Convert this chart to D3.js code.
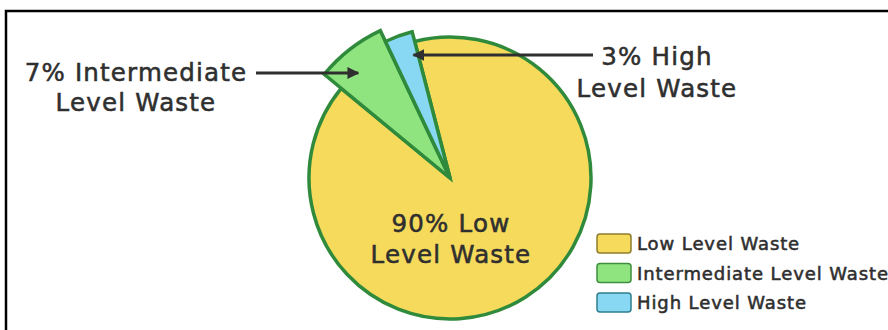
<!DOCTYPE html>
<html>
<head>
<meta charset="utf-8">
<script src="https://cdn.jsdelivr.net/npm/d3@7"></script>
<style>
  body { margin: 0; background: #fff; }
  text { font-family: "DejaVu Sans", "Noto Sans", sans-serif; fill: #2f2f2f; stroke: #2f2f2f; stroke-width: 0.55; }
</style>
</head>
<body>
<div id="chart"></div>
<script>
// data
const categories = ["Low Level Waste", "Intermediate Level Waste", "High Level Waste"];
const shares = [90, 7, 3];
const labelLines = [
  ["90% Low", "Level Waste"],
  ["7% Intermediate", "Level Waste"],
  ["3% High", "Level Waste"]
];

const width = 888, height = 330;
const cx = 450, cy = 178;

// slice styling: outer radius per slice (small slices are pulled out a bit)
const radius = [141, 163, 151];
const fills = ["#f6da5c", "#8fe480", "#88d8f4"];
const legendStroke = ["#8f7d2c", "#3f8f3f", "#2f7f8f"];
const strokeColor = "#2f8b3b";

const svg = d3.select("#chart")
  .append("svg")
  .attr("width", width)
  .attr("height", height);

// frame
svg.append("rect")
  .attr("x", 6).attr("y", 11)
  .attr("width", width + 10).attr("height", height + 10)
  .attr("fill", "none")
  .attr("stroke", "#000")
  .attr("stroke-width", 2.5);

const data = categories.map((c, i) => ({ name: c, value: shares[i], i: i }));

const start = -14.5 * Math.PI / 180;
const pie = d3.pie()
  .sort(null)
  .value(d => d.value)
  .startAngle(start)
  .endAngle(start + 2 * Math.PI);

const arcs = pie(data);

const g = svg.append("g").attr("transform", `translate(${cx},${cy})`);

g.selectAll("path.slice")
  .data(arcs)
  .join("path")
  .attr("class", "slice")
  .attr("d", d => d3.arc().innerRadius(0).outerRadius(radius[d.data.i])(d))
  .attr("fill", d => fills[d.data.i])
  .attr("stroke", strokeColor)
  .attr("stroke-width", 3.5)
  .attr("stroke-linejoin", "miter");

// arrowhead
svg.append("defs").append("marker")
  .attr("id", "arrow")
  .attr("viewBox", "0 0 10 10")
  .attr("refX", 9).attr("refY", 5)
  .attr("markerWidth", 4).attr("markerHeight", 4)
  .attr("markerUnits", "strokeWidth")
  .attr("orient", "auto")
  .append("path")
  .attr("d", "M0,0 L10,5 L0,10 z")
  .attr("fill", "#2f2f2f");

// point on a slice's middle ray at a given page y
const tipAt = (a, y) => {
  const mid = (a.startAngle + a.endAngle) / 2;
  return cx + (cy - y) * Math.tan(mid);
};

// multi-line label, one text element per line
const addLabel = (lines, x, y, lineGap, size) => {
  svg.selectAll(null)
    .data(lines)
    .join("text")
    .attr("x", x)
    .attr("y", (d, i) => y + i * lineGap)
    .attr("text-anchor", "middle")
    .attr("font-size", size)
    .attr("letter-spacing", 1.2)
    .text(d => d);
};

// intermediate annotation
const yInt = 73;
svg.append("line")
  .attr("x1", 256).attr("y1", yInt)
  .attr("x2", tipAt(arcs[1], yInt) - 10).attr("y2", yInt)
  .attr("stroke", "#2f2f2f").attr("stroke-width", 3)
  .attr("marker-end", "url(#arrow)");
addLabel(labelLines[1], 136, 81, 29.5, 24.5);

// high annotation
const yHigh = 55;
svg.append("line")
  .attr("x1", 593).attr("y1", yHigh)
  .attr("x2", tipAt(arcs[2], yHigh) + 8).attr("y2", yHigh)
  .attr("stroke", "#2f2f2f").attr("stroke-width", 3)
  .attr("marker-end", "url(#arrow)");
addLabel(labelLines[2], 657, 65, 32, 24.5);

// low label inside the pie
addLabel(labelLines[0], cx + 1, 232, 31, 24.5);

// legend
const legend = svg.append("g").attr("transform", "translate(597,234)");
const item = legend.selectAll("g")
  .data(data)
  .join("g")
  .attr("transform", (d, i) => `translate(0,${i * 29.5})`);

item.append("rect")
  .attr("width", 34).attr("height", 19)
  .attr("rx", 3)
  .attr("fill", d => fills[d.i])
  .attr("stroke", d => legendStroke[d.i])
  .attr("stroke-width", 1.5);

item.append("text")
  .attr("x", 40).attr("y", 16)
  .attr("font-size", 18)
  .attr("letter-spacing", 0.9)
  .attr("stroke-width", 0.4)
  .text(d => d.name);
</script>
</body>
</html>
